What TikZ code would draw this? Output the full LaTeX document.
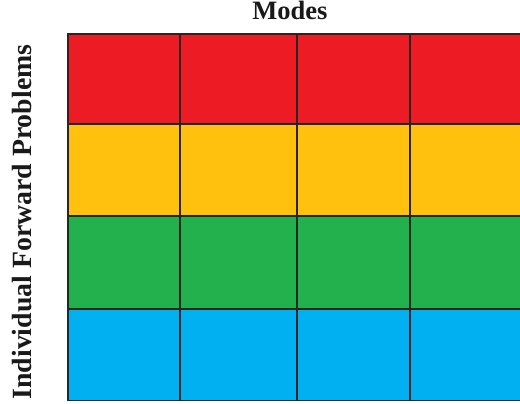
\documentclass[tikz,border=0pt]{standalone}
\usepackage{fontspec}
\setmainfont{Liberation Serif}
\definecolor{cred}{RGB}{237,28,36}
\definecolor{cyel}{RGB}{255,192,14}
\definecolor{cgrn}{RGB}{34,177,76}
\definecolor{cblu}{RGB}{0,176,240}
\begin{document}
\begin{tikzpicture}[x=1pt,y=1pt,
  cell/.style={draw=black!85, line width=1.1pt, inner sep=0pt, outer sep=0pt},
  lbl/.style={font=\bfseries\fontsize{26.5}{30}\selectfont, inner sep=0pt, text=black!90}]
\useasboundingbox[fill=white] (0,0) rectangle (520,404);
\foreach \r/\col/\yt/\yb in {1/cred/370/280, 2/cyel/280/188, 3/cgrn/188/95, 4/cblu/95/3.5} {
  \foreach \c/\xl/\xr in {1/68/180, 2/180/297, 3/297/410, 4/410/524} {
    \node[cell, fill=\col, minimum width={(\xr-\xl)*1pt}, minimum height={(\yt-\yb)*1pt}]
      (c\r\c) at ({(\xl+\xr)/2},{(\yt+\yb)/2}) {};
  }
}
\node[lbl, anchor=base] (modes) at (290,384.5) {Modes};
\node[lbl, anchor=base, rotate=90, font=\bfseries\fontsize{27.8}{30}\selectfont] (ifp) at (31,182) {Individual Forward Problems};
\end{tikzpicture}
\end{document}
